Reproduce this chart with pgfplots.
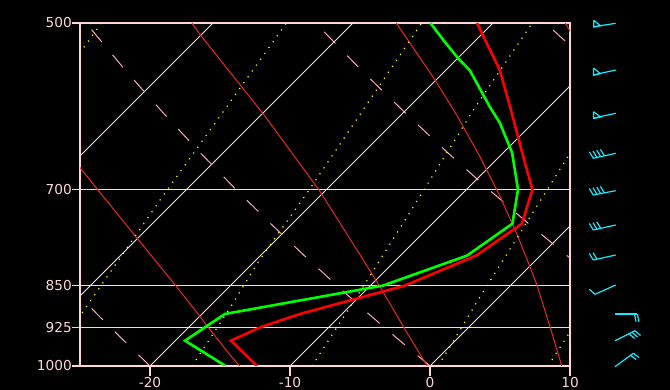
\documentclass[border=0pt]{standalone}
\usepackage{pgfplots}
\pgfplotsset{compat=1.18}
\usepackage{fontspec}
\setmainfont{DejaVu Sans}
\definecolor{frm}{RGB}{255,214,214}
\definecolor{iso}{RGB}{255,228,228}
\definecolor{adia}{RGB}{255,170,185}
\definecolor{mst}{RGB}{235,40,40}
\definecolor{mix}{RGB}{255,255,0}
\definecolor{tcol}{RGB}{255,0,0}
\definecolor{dcol}{RGB}{0,255,0}
\definecolor{barb}{RGB}{20,235,255}
% skew-T transform: x = T + 35.35 ln(1000/p), y = ln(1000/p)
\pgfplotsset{table/skew/.style={row sep=\\,y expr={ln(1000/\thisrow{p})},x expr={\thisrow{T}+35.35*ln(1000/\thisrow{p})}}}
\pgfplotsset{bb/.style={barb, line width=1.2pt, mark=none}}
\begin{document}
\begin{tikzpicture}
\fill[black] (0,0) rectangle (670pt,390pt);
\begin{axis}[at={(80pt,24pt)}, anchor=south west, width=490pt, height=343pt, scale only axis,
 xmin=-25, xmax=10, ymin=0, ymax=0.693147,
 axis line style={frm, line width=1.3pt},
 xtick={-20,-10,0,10}, xticklabels={-20,-10,0,10},
 ytick={0,0.077962,0.162519,0.356675,0.693147}, yticklabels={1000,925,850,700,500},
 minor tick num=0,
 tick pos=left, tick align=outside,
 tick style={frm, line width=1.3pt},
 major tick length=8pt,
 xtick style={/pgfplots/major tick length=10pt},
 ymajorgrids, grid style={frm, line width=1.3pt},
 ticklabel style={font=\fontsize{13.7}{14}\selectfont, text=frm, inner sep=0pt},
 yticklabel style={anchor=east},
 xticklabel style={anchor=north, yshift=-3pt},
 ]
% isotherms
\addplot[iso, line width=0.9pt] table[skew] {p T\\1000 -40\\500 -40\\};
\addplot[iso, line width=0.9pt] table[skew] {p T\\1000 -30\\500 -30\\};
\addplot[iso, line width=0.9pt] table[skew] {p T\\1000 -20\\500 -20\\};
\addplot[iso, line width=0.9pt] table[skew] {p T\\1000 -10\\500 -10\\};
\addplot[iso, line width=0.9pt] table[skew] {p T\\1000 0\\500 0\\};
\addplot[iso, line width=0.9pt] table[skew] {p T\\1000 10\\500 10\\};
% dry adiabats
\addplot[adia, line width=1pt, dash pattern=on 16pt off 17pt] table[skew] {p T\\1000 -20\\950 -23.68\\900 -27.51\\850 -31.48\\};
\addplot[adia, line width=1pt, dash pattern=on 16pt off 17pt] table[skew] {p T\\1000 0\\950 -3.97\\900 -8.10\\850 -12.39\\800 -16.87\\750 -21.55\\700 -26.46\\650 -31.63\\600 -37.09\\550 -42.89\\500 -49.07\\};
\addplot[adia, line width=1pt, dash pattern=on 16pt off 17pt] table[skew] {p T\\1000 20\\950 15.73\\900 11.31\\850 6.70\\800 1.90\\750 -3.13\\700 -8.40\\650 -13.95\\600 -19.80\\550 -26.03\\500 -32.67\\};
\addplot[adia, line width=1pt, dash pattern=on 16pt off 17pt] table[skew] {p T\\700 9.66\\650 3.74\\600 -2.52\\550 -9.17\\500 -16.26\\};
% moist adiabats
\addplot[mst, line width=1pt] table[skew] {p T\\1000 -13.6\\978 -15.07\\922 -18.8\\905 -19.95\\852 -23.76\\701 -36.26\\670 -39.14\\650 -41.07\\};
\addplot[mst, line width=1pt] table[skew] {p T\\1000 -0.2\\928.6 -4.4\\852.5 -9.2\\791 -13.5\\700.7 -20.5\\601 -29.9\\512 -40.07\\500 -41.5\\};
\addplot[mst, line width=1pt] table[skew] {p T\\1000 9.41\\923.6 5.76\\848.8 1.84\\818.3 0.05\\764.8 -3.29\\710.1 -7.09\\655.1 -11.38\\602.2 -16.02\\561 -20.07\\500.3 -26.86\\500 -26.9\\};
\addplot[mst, line width=1pt] table[skew] {p T\\500 -14.84\\525 -12.1\\};
% mixing ratio lines
\addplot[mix, line width=1.2pt, dash pattern=on 1.2pt off 6pt] table[skew] {p T\\500 -47.97\\535 -47.3\\};
\addplot[mix, line width=1.2pt, dash pattern=on 1.2pt off 6pt] table[skew] {p T\\920 -28.38\\898.4 -28.64\\705 -31.29\\634.6 -32.34\\505.6 -34.64\\500 -34.75\\};
\addplot[mix, line width=1.2pt, dash pattern=on 1.2pt off 6pt] table[skew] {p T\\1000 -17.0\\889.4 -18.43\\810.1 -19.71\\705 -21.14\\500 -25.1\\};
\addplot[mix, line width=1.2pt, dash pattern=on 1.2pt off 6pt] table[skew] {p T\\1000 -8.43\\852.5 -10.43\\705 -12.93\\596 -15.19\\500 -17.2\\};
\addplot[mix, line width=1.2pt, dash pattern=on 1.2pt off 6pt] table[skew] {p T\\1000 0.59\\869.9 -1.36\\700.9 -4.21\\650.7 -5.19\\600 -6.33\\};
\addplot[mix, line width=1.2pt, dash pattern=on 1.2pt off 6pt] table[skew] {p T\\1000 8.43\\933.6 7.57\\900 7.1\\};
% dewpoint
\addplot[dcol, line width=2.6pt] table[skew] {p T\\1000 -14.6\\950 -19.31\\900 -18.36\\850 -9.1\\800 -5.24\\750 -4.28\\700 -6.32\\650 -9.36\\612 -12.36\\592.6 -14.21\\550 -18.29\\536.7 -20.0\\519.6 -22.07\\500 -24.47\\};
% temperature
\addplot[tcol, line width=2.6pt] table[skew] {p T\\1000 -12.36\\950 -16.03\\925 -14.9\\900 -13.0\\850 -7.53\\800 -4.6\\750 -3.6\\700 -5.29\\650 -8.64\\600 -12.21\\550 -16.14\\500 -21.14\\};
\end{axis}
% wind barbs (pixel coordinates)
\begin{axis}[at={(0pt,0pt)}, anchor=south west, width=670pt, height=390pt, scale only axis,
 xmin=0, xmax=670, ymin=0, ymax=390, y dir=reverse, hide axis, clip=false]
% 500
\addplot[bb] coordinates {(615.7,23.3)(594,26.7)};
\addplot[bb] coordinates {(593.7,20.3)(593.7,27)(600.5,25.7)(593.7,20.3)};
% 550
\addplot[bb] coordinates {(615.7,70)(594,74.8)};
\addplot[bb] coordinates {(593.5,68.2)(593.5,75.2)(600.5,73.6)(593.5,68.2)};
% 600
\addplot[bb] coordinates {(615.7,113.3)(594,118)};
\addplot[bb] coordinates {(593.5,111.7)(593.5,118.4)(600.5,117)(593.5,111.7)};
% 650
\addplot[bb] coordinates {(615.7,153.3)(593.3,158.3)};
\addplot[bb] coordinates {(593.3,158.3)(589.3,151.8)};
\addplot[bb] coordinates {(597,157.5)(593,151)};
\addplot[bb] coordinates {(600.7,156.7)(596.7,150.2)};
\addplot[bb] coordinates {(604.4,155.9)(600.4,149.4)};
% 700
\addplot[bb] coordinates {(615.7,190.7)(593.3,195)};
\addplot[bb] coordinates {(593.3,195)(589.3,188.5)};
\addplot[bb] coordinates {(597,194.3)(593,187.8)};
\addplot[bb] coordinates {(600.7,193.6)(596.7,187.1)};
\addplot[bb] coordinates {(604.4,192.9)(600.4,186.4)};
% 750
\addplot[bb] coordinates {(615.7,225)(593.3,230)};
\addplot[bb] coordinates {(593.3,230)(589.3,223.5)};
\addplot[bb] coordinates {(597,229.2)(593,222.7)};
\addplot[bb] coordinates {(600.7,228.3)(596.7,221.8)};
% 800
\addplot[bb] coordinates {(615.7,255)(593.3,260)};
\addplot[bb] coordinates {(593.3,260)(589.3,253.5)};
\addplot[bb] coordinates {(597,259.2)(593,252.7)};
% 850
\addplot[bb] coordinates {(615.7,285)(595,294.3)};
\addplot[bb] coordinates {(595,294.3)(589.3,289.3)};
% 900
\addplot[bb] coordinates {(615,314)(637.3,314)};
\addplot[bb] coordinates {(634.5,314)(636,321.7)};
\addplot[bb] coordinates {(637.3,314)(639,321.7)};
% 950
\addplot[bb] coordinates {(615,340.7)(635,330.7)};
\addplot[bb] coordinates {(635,330.7)(640.5,335.5)};
\addplot[bb] coordinates {(632,332.2)(637.5,337)};
\addplot[bb] coordinates {(629,333.7)(634.5,338.5)};
% 1000
\addplot[bb] coordinates {(615,366.7)(633.3,353.3)};
\addplot[bb] coordinates {(633.3,353.3)(639,357.5)};
\addplot[bb] coordinates {(630.5,355.3)(636.2,359.5)};
\end{axis}
\pgfresetboundingbox
\path[use as bounding box] (0,0) rectangle (670pt,390pt);
\end{tikzpicture}
\end{document}
